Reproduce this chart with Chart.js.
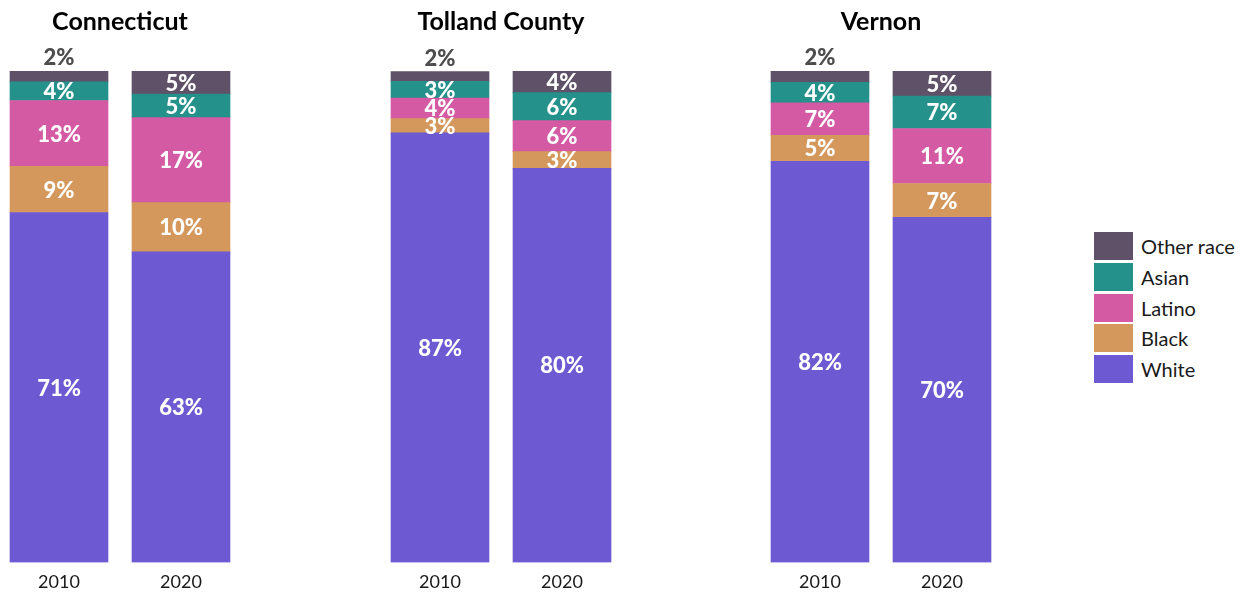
<!DOCTYPE html>
<html><head><meta charset="utf-8">
<script src="https://cdn.jsdelivr.net/npm/chart.js@4.4.1/dist/chart.umd.min.js"></script>
<style>
html,body{margin:0;padding:0;background:#fff;width:1245px;height:594px;overflow:hidden;position:relative;font-family:Lato,"Noto Sans",sans-serif;}
.box{position:absolute;top:0;height:594px;width:244px;}
#legend{position:absolute;left:1094px;top:232px;}
.item{display:flex;align-items:center;height:28px;margin-bottom:2.75px;}
.sw{width:39px;height:28px;margin-right:8px;}
.lab{font-size:20px;color:#1a1a1a;}
</style></head><body>
<div class="box" style="left:-2px"><canvas id="c0"></canvas></div>
<div class="box" style="left:379px"><canvas id="c1"></canvas></div>
<div class="box" style="left:759px"><canvas id="c2"></canvas></div>
<div id="legend"></div>
<script>
const years = ["2010", "2020"];
const places = ["Connecticut", "Tolland County", "Vernon"];
const seriesNames = ["White", "Black", "Latino", "Asian", "Other race"];
const seriesColors = ["#6d59d1", "#d5985c", "#d35aa3", "#25918b", "#5f5168"];
// values per place: [2010, 2020]
const white  = [[71.2, 63.2], [87.4, 80.2], [81.6, 70.2]];
const black  = [[9.4, 10.0], [2.9, 3.4], [5.3, 6.9]];
const latino = [[13.4, 17.3], [4.2, 6.3], [6.6, 11.2]];
const asian  = [[3.8, 4.8], [3.4, 5.7], [4.2, 6.6]];
const other  = [[2.2, 4.7], [2.0, 4.4], [2.3, 5.1]];
const seriesValues = [white, black, latino, asian, other];

const FONT = "Lato";

const labelPlugin = {
  id: 'segLabels',
  afterDatasetsDraw(chart) {
    const ctx = chart.ctx;
    ctx.save();
    ctx.textAlign = 'center';
    ctx.textBaseline = 'middle';
    ctx.font = `900 22px ${FONT}`;
    chart.data.datasets.forEach((ds, di) => {
      const meta = chart.getDatasetMeta(di);
      meta.data.forEach((bar, i) => {
        const v = ds.data[i];
        const txt = Math.round(v) + '%';
        if (v < 2.5) {
          ctx.fillStyle = '#4d4d4d';
          ctx.fillText(txt, bar.x, bar.y - 13);
        } else {
          ctx.fillStyle = '#ffffff';
          ctx.fillText(txt, bar.x, (bar.y + bar.base) / 2 + 1);
        }
      });
    });
    ctx.restore();
  }
};

places.forEach((place, p) => {
  new Chart(document.getElementById('c' + p), {
    type: 'bar',
    data: {
      labels: years,
      datasets: seriesNames.map((name, s) => ({
        label: name,
        data: seriesValues[s][p],
        backgroundColor: seriesColors[s],
        borderWidth: 0,
        barThickness: 98
      }))
    },
    options: {
      responsive: true,
      maintainAspectRatio: false,
      animation: false,
      layout: { padding: { top: 0, bottom: -8, left: 0, right: 0 } },
      plugins: {
        legend: { display: false },
        tooltip: { enabled: false },
        title: {
          display: true, text: place, color: '#000',
          font: { family: FONT, size: 25, weight: 'bold', lineHeight: 1.2 },
          padding: { top: 7, bottom: 34 }
        }
      },
      scales: {
        x: {
          stacked: true,
          grid: { display: false, drawTicks: false }, border: { display: false },
          ticks: { color: '#1a1a1a', font: { family: FONT, size: 18 }, padding: 9 }
        },
        y: { stacked: true, display: false, min: 0, max: 100 }
      }
    },
    plugins: [labelPlugin]
  });
});

const lg = document.getElementById('legend');
for (let s = seriesNames.length - 1; s >= 0; s--) {
  const it = document.createElement('div'); it.className = 'item';
  const sw = document.createElement('div'); sw.className = 'sw'; sw.style.background = seriesColors[s];
  const lb = document.createElement('span'); lb.className = 'lab'; lb.textContent = seriesNames[s];
  it.appendChild(sw); it.appendChild(lb); lg.appendChild(it);
}
</script>
</body></html>
